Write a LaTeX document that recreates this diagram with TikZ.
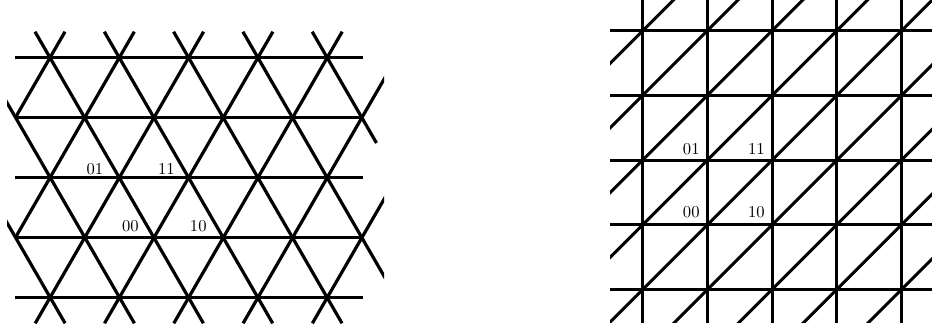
\documentclass[tikz,border=0pt]{standalone}
\newcommand{\latlbl}[1]{\scalebox{1.75}{\fontsize{9.5}{11}\selectfont #1}}
\begin{document}
\begin{tikzpicture}[x=1pt,y=-1pt,
  latline/.style={line width=3.2pt, line cap=butt},
  lbl/.style={inner sep=0pt}]
\useasboundingbox (0,0) rectangle (932,335);
% ---------- triangular lattice ----------
\begin{scope}
\clip (7,31.7) rectangle (384,323.3);
\foreach \y in {57.7,117.7,177.7,237.7,297.7}
  \draw[latline] (15,\y) -- (362.5,\y);
% "\" lines
\foreach \c in {-88.3,-19,50,119.3,188.6,257.9}
  \draw[latline] ({\c-15},31.7) -- ({\c+153.4},323.3);
\draw[latline] (312.2,31.7) -- (376.5,143);
% "/" lines
\draw[latline] (65,31.7) -- (15.35,117.7);
\draw[latline] (134.3,31.7) -- (15.35,237.7);
\foreach \c in {188.6,257.9,327.2,396.5,465.8}
  \draw[latline] ({\c+15},31.7) -- ({\c-153.4},323.3);
\end{scope}
\node[lbl, anchor=base east] (l01) at (103.5,174) {\latlbl{01}};
\node[lbl, anchor=base east] (l11) at (175,174) {\latlbl{11}};
\node[lbl, anchor=base east] (l00) at (139,231.7) {\latlbl{00}};
\node[lbl, anchor=base east] (l10) at (206.8,231.7) {\latlbl{10}};
% ---------- square lattice ----------
\begin{scope}
\clip (610,0) rectangle (932,322.7);
\foreach \x in {642.7,707.4,772.1,836.8,901.5}
  \draw[latline, line width=3pt] (\x,-5) -- (\x,340);
\foreach \y in {30.7,95.4,160.1,224.8,289.5}
  \draw[latline, line width=3pt] (600,\y) -- (940,\y);
\foreach \k in {0,...,8}
  \draw[latline, line width=3pt] ({673.4+64.7*\k-400},400) -- ({673.4+64.7*\k+10},-10);
\end{scope}
\node[lbl, anchor=base east] (r01) at (699.8,154) {\latlbl{01}};
\node[lbl, anchor=base east] (r11) at (765,154) {\latlbl{11}};
\node[lbl, anchor=base east] (r00) at (699.8,217.7) {\latlbl{00}};
\node[lbl, anchor=base east] (r10) at (765,217.7) {\latlbl{10}};
\end{tikzpicture}
\end{document}
